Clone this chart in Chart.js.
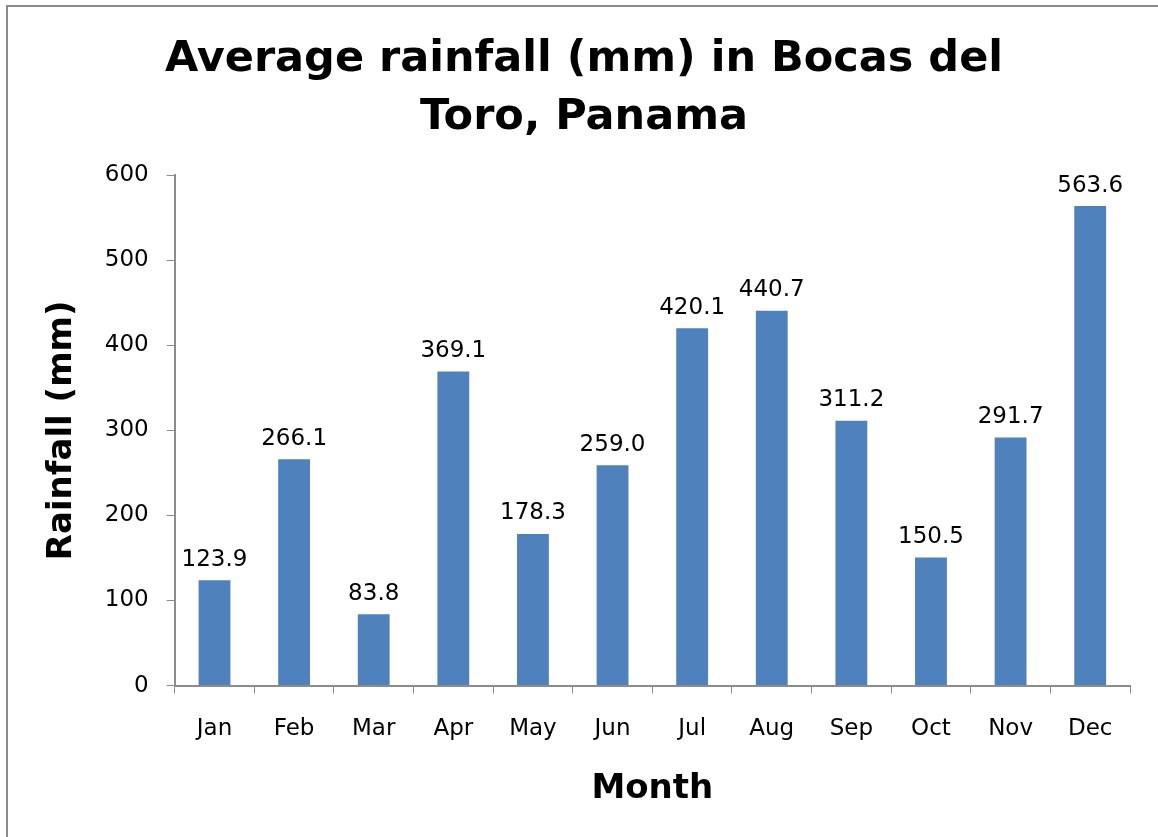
<!DOCTYPE html>
<html>
<head>
<meta charset="utf-8">
<script src="https://cdn.jsdelivr.net/npm/chart.js@4"></script>
<style>
  body { margin: 0; background: #fff; }
  .frame { position: absolute; left: 6px; top: 5px; width: 1200px; height: 900px; border: 2px solid #8c8c8c; }
  .wrap { position: absolute; left: 0; top: 0; width: 1158px; height: 837px; }
</style>
</head>
<body>
<div class="frame"></div>
<div class="wrap"><canvas id="myChart" width="1158" height="837"></canvas></div>
<script>
const months = ["Jan", "Feb", "Mar", "Apr", "May", "Jun", "Jul", "Aug", "Sep", "Oct", "Nov", "Dec"]
const rainfall = [123.9, 266.1, 83.8, 369.1, 178.3, 259.0, 420.1, 440.7, 311.2, 150.5, 291.7, 563.6]
const titleLines = ["Average rainfall (mm) in Bocas del", "Toro, Panama"]

const fontName = "'DejaVu Sans', Verdana, sans-serif"
const axisGray = "#8c8c8c"

// value labels above each bar
const barLabels = {
    id: 'barLabels',
    afterDatasetsDraw(chart) {
        const ctx = chart.ctx
        const meta = chart.getDatasetMeta(0)
        ctx.save()
        ctx.font = "23px " + fontName
        ctx.fillStyle = "#000"
        ctx.textAlign = "center"
        ctx.textBaseline = "bottom"
        meta.data.forEach((bar, i) => {
            ctx.fillText(rainfall[i].toFixed(1), bar.x, bar.y - 9)
        })
        ctx.restore()
    }
}

const ctx = document.getElementById("myChart").getContext("2d")
const chart = new Chart(ctx, {
    type: 'bar',
    data: {
        labels: months,
        datasets: [{
            label: "Rainfall",
            data: rainfall,
            backgroundColor: "#4F81BD",
            barPercentage: 0.4,
            categoryPercentage: 1.0
        }]
    },
    options: {
        responsive: false,
        animation: false,
        layout: { padding: { left: 38, right: 28, top: 31, bottom: 23 } },
        plugins: {
            legend: { display: false },
            tooltip: { enabled: false },
            title: {
                display: true,
                text: titleLines,
                color: "#000",
                font: { family: fontName, size: 43, weight: 'bold', lineHeight: 1.35 },
                padding: { top: 0, bottom: 28 }
            }
        },
        scales: {
            x: {
                grid: { display: true, drawOnChartArea: false, drawTicks: true, tickLength: 8, color: axisGray, offset: true },
                border: { display: true, color: axisGray, width: 2 },
                ticks: { color: "#000", font: { family: fontName, size: 23 }, padding: 22 },
                title: { display: true, text: "Month", color: "#000", font: { family: fontName, size: 34, weight: 'bold' }, padding: { top: 4 } }
            },
            y: {
                min: 0,
                max: 600,
                ticks: { stepSize: 100, color: "#000", font: { family: fontName, size: 23 }, padding: 18 },
                grid: { display: true, drawOnChartArea: false, drawTicks: true, tickLength: 8, color: axisGray },
                border: { display: true, color: axisGray, width: 2 },
                title: { display: true, text: "Rainfall (mm)", color: "#000", font: { family: fontName, size: 34, weight: 'bold' }, padding: { bottom: 4 } }
            }
        }
    },
    plugins: [barLabels]
})
</script>
</body>
</html>
